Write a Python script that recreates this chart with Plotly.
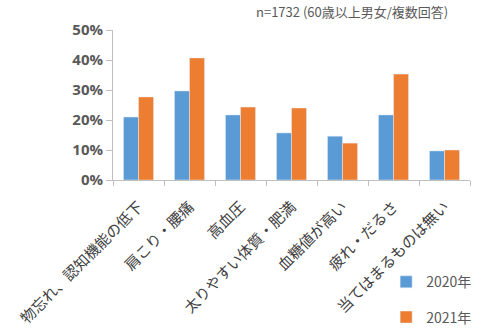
import plotly.graph_objects as go

categories = ["物忘れ、認知機能の低下", "肩こり・腰痛", "高血圧", "太りやすい体質・肥満",
              "血糖値が高い", "疲れ・だるさ", "当てはまるものは無い"]
v2020 = [21.0, 29.7, 21.7, 15.7, 14.6, 21.7, 9.7]
v2021 = [27.7, 40.7, 24.3, 24.0, 12.3, 35.3, 10.0]
yticks = [0, 10, 20, 30, 40, 50]
ylabels = ["0%", "10%", "20%", "30%", "40%", "50%"]

jp = "Noto Sans CJK JP"
fig = go.Figure()
fig.add_trace(go.Bar(x=categories, y=v2020, name="2020年", marker_color="#5B9BD5",
                     legendgroup="a"))
fig.add_trace(go.Bar(x=categories, y=v2021, name="2021年", marker_color="#ED7D31",
                     legendgroup="b"))
fig.update_layout(
    width=489, height=335,
    margin=dict(l=113, r=19, t=30, b=155, autoexpand=False),
    paper_bgcolor="white", plot_bgcolor="white",
    barmode="group", bargap=0.41, bargroupgap=0,
    font=dict(family=jp, color="#404040"),
    legend=dict(x=1.02, xanchor="right", y=-0.575, yanchor="top",
                font=dict(size=14, color="#595959", family=jp),
                tracegroupgap=14, itemwidth=30, bgcolor="rgba(0,0,0,0)"),
    xaxis=dict(showline=True, linecolor="#BFBFBF", linewidth=1,
               ticks="outside", tickson="boundaries", ticklen=5, tickcolor="#BFBFBF",
               tickangle=-45, tickfont=dict(size=15, color="#404040", family=jp),
               ticklabelstandoff=11, automargin=False,
               showgrid=False),
    yaxis=dict(range=[0, 50], tickvals=yticks, ticktext=ylabels,
               showline=True, linecolor="#BFBFBF", linewidth=1,
               ticks="outside", ticklen=6, tickcolor="#BFBFBF",
               tickfont=dict(size=15, color="#595959", family="Open Sans", weight="bold"),
               showgrid=False, zeroline=False, automargin=False),
    annotations=[dict(text="n=1732 (60歳以上男女/複数回答)", xref="paper", yref="paper",
                      x=1.0, y=1.0, xanchor="right", yanchor="bottom", yshift=7, xshift=-20,
                      showarrow=False, font=dict(size=13, color="#595959", family=jp))],
)
fig.write_html("out.html")
